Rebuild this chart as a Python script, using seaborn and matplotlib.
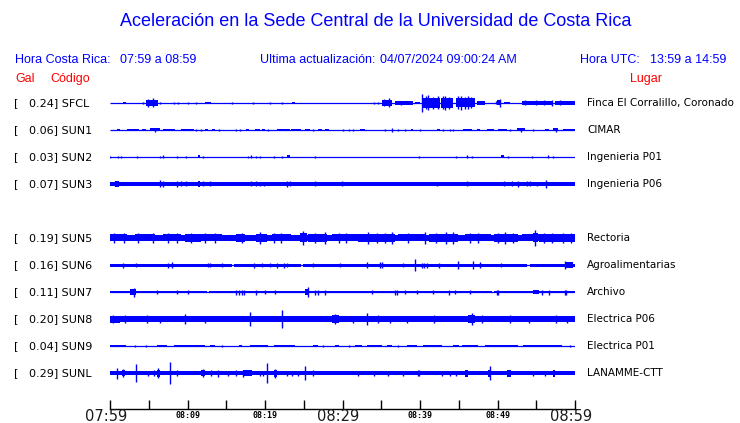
import matplotlib
matplotlib.use("Agg")
import matplotlib.pyplot as plt
import matplotlib.transforms as mtransforms
import seaborn as sns

# --- Chart texts ---
TITLE = "Aceleración en la Sede Central de la Universidad de Costa Rica"
HORA_CR = "07:59 a 08:59"
ACTUALIZACION = "04/07/2024 09:00:24 AM"
HORA_UTC = "13:59 a 14:59"

# --- Stations ---
CODES = ["SFCL", "SUN1", "SUN2", "SUN3", "SUN5", "SUN6", "SUN7", "SUN8", "SUN9", "SUNL"]
GAL = [0.24, 0.06, 0.03, 0.07, 0.19, 0.16, 0.11, 0.20, 0.04, 0.29]
PLACES = ["Finca El Corralillo, Coronado", "CIMAR", "Ingenieria P01", "Ingenieria P06",
          "Rectoria", "Agroalimentarias", "Archivo", "Electrica P06", "Electrica P01",
          "LANAMME-CTT"]
# background half-amplitude of each trace (relative units)
BASE = [0, 0, 0, 1.8, 3.0, 1.5, 1.4, 2.8, 0, 1.7]

# --- Time axis (minutes after 07:59) ---
TICK_MINUTES = [0, 5, 10, 15, 20, 25, 30, 35, 40, 45, 50, 55, 60]
TICK_LABELS = ["07:59", "", "08:09", "", "08:19", "", "08:29", "", "08:39", "", "08:49", "", "08:59"]

# --- Trace activity: bursts (start_min, end_min, half_amp), spikes (min, half_amp), gaps ---
SFCL_BURSTS = [(1.7, 2.1, 1.3), (4.7, 6.2, 3.0), (12.3, 13.0, 1.3), (23.5, 23.9, 1.3),
               (35.1, 36.4, 2.8), (36.8, 39.1, 1.6), (39.4, 40.0, 1.3), (40.4, 42.6, 5.0),
               (42.7, 44.3, 4.8), (44.7, 47.1, 4.5), (47.3, 48.4, 1.6), (49.9, 50.5, 2.5),
               (50.8, 51.6, 1.3), (53.1, 57.0, 1.6), (57.4, 60.0, 1.6)]
SFCL_SPIKES = [(4.3, 1.2), (4.9, 4), (5.5, 4.5), (6.5, 1.2), (8.3, 1), (8.8, 1), (10.0, 1), (11.1, 1),
               (15.8, 1.2), (18.5, 1), (20.6, 1), (22.2, 1), (34.0, 1), (34.6, 1), (35.4, 3.5),
               (36.0, 4.5), (37.5, 2.2), (40.2, 9), (40.8, 6.5), (41.0, 7.5), (41.7, 6), (42.3, 6.5),
               (43.0, 6.5), (43.2, 7), (43.8, 6), (44.9, 6.5), (45.3, 7), (45.8, 6), (46.2, 6.5),
               (46.6, 5.5), (49.8, 1.5), (50.3, 4), (53.5, 2.5), (55.0, 2.5), (56.0, 2.5),
               (57.0, 3), (58.0, 2.5)]

SUN1_BURSTS = [(0.9, 1.3, 1.2), (2.2, 3.7, 1.2), (4.1, 4.7, 1.2), (5.2, 6.5, 1.5), (6.9, 8.4, 1.3),
               (9.2, 10.8, 1.3), (12.3, 12.7, 1.2), (13.1, 13.5, 1.2), (17.6, 17.9, 1.2),
               (18.7, 19.4, 1.3), (19.6, 20.0, 1.2), (21.5, 23.2, 1.3), (23.4, 24.7, 1.2),
               (25.2, 25.8, 1.2), (26.9, 27.3, 1.2), (27.7, 28.2, 1.2), (32.3, 32.9, 1.2),
               (38.8, 39.1, 1.2), (42.2, 42.6, 1.2), (45.6, 46.7, 1.3), (47.3, 47.7, 1.2),
               (48.6, 49.5, 1.2), (50.1, 51.2, 1.3), (52.5, 53.5, 1.5), (56.1, 56.6, 1.2),
               (57.2, 57.8, 1.5), (58.5, 60.0, 1.2)]
SUN1_SPIKES = [(5.8, 2.2), (11.1, 1.2), (11.8, 1.2), (14.0, 1.2), (16.3, 1), (16.8, 1), (20.4, 1.2),
               (26.2, 1.2), (30.1, 1), (30.8, 1), (31.3, 1), (35.5, 1.2), (36.4, 2), (37.2, 1),
               (38.1, 1), (40.0, 1.2), (43.0, 1), (43.9, 1), (44.3, 1), (51.6, 1), (53.0, 2),
               (54.6, 1), (57.5, 2)]

SUN2_BURSTS = [(11.3, 11.6, 1.5), (22.8, 23.2, 1.5), (50.5, 50.8, 1.5)]
SUN2_SPIKES = [(0.0, 1.3), (1.0, 1.3), (1.4, 1.2), (3.5, 0.8), (6.4, 1.2), (6.9, 1.5), (8.7, 1),
               (9.8, 0.8), (12.0, 1.2), (17.8, 1), (18.2, 1.5), (18.8, 1), (19.3, 0.8), (21.2, 1.2),
               (22.2, 1), (26.4, 1.2), (39.9, 0.8), (44.7, 1), (46.0, 1.5), (46.7, 1.2), (51.4, 1),
               (54.5, 1), (56.5, 1.5), (57.1, 1)]

SUN3_BURSTS = [(0.65, 1.2, 3.0), (11.3, 11.6, 3.0)]
SUN3_SPIKES = [(0.6, 2.5), (6.4, 3.5), (6.9, 3), (8.7, 3), (9.2, 2.5), (9.8, 2.5), (12.0, 2.5),
               (12.9, 2.5), (18.2, 2.5), (18.8, 2.5), (19.3, 2.2), (19.9, 2.2), (22.9, 3), (23.2, 2.5),
               (26.4, 2.5), (29.9, 2.5), (42.2, 2.2), (46.0, 2.5), (50.8, 2.5), (51.9, 2.5), (52.7, 3),
               (53.8, 2.5), (54.2, 2.5), (55.1, 2.2), (56.3, 4)]

SUN5_BURSTS = [(0, 2.2, 3.5), (3.2, 5.8, 3.5), (6.9, 9.2, 3.5), (9.7, 11.8, 3.8), (11.8, 14.4, 3.5),
               (16.3, 17.4, 3.8), (18.9, 20.2, 3.8), (20.9, 23.4, 3.5), (24.5, 25.4, 4.5), (25.6, 28.0, 3.8),
               (28.6, 32.0, 3.5), (32.0, 36.8, 3.8), (37.2, 40.6, 3.5), (41.1, 44.9, 3.8), (45.8, 49.2, 3.5),
               (49.5, 52.7, 3.8), (53.1, 55.3, 3.5), (54.6, 55.2, 4.5), (55.3, 60, 3.7)]
SUN5_SPIKES = [(0.5, 4.5), (1.8, 5), (3.6, 4.5), (5.6, 5), (7.5, 4.5), (8.6, 4.5), (10.5, 5), (12.2, 5),
               (13.5, 4.5), (17.0, 5), (19.4, 6), (21.2, 4.5), (22.0, 4.5), (24.9, 7), (26.5, 4.5),
               (27.7, 6), (29.5, 4.5), (30.5, 4.5), (33.3, 6), (34.5, 5), (35.5, 4.5), (36.4, 6),
               (38.5, 4.5), (40.6, 6), (42.0, 4.5), (43.4, 6), (44.3, 6), (46.5, 4.5), (47.5, 4.5),
               (50.0, 4.5), (51.0, 6), (52.0, 4.5), (54.8, 8), (56.0, 4.5), (57.0, 5), (58.5, 4.5),
               (59.5, 4.5)]

SUN6_BURSTS = [(58.9, 59.8, 3)]
SUN6_SPIKES = [(1.7, 2.5), (3.4, 2), (7.5, 2.5), (8.0, 3), (12.7, 2), (12.9, 2), (14.5, 2), (18.6, 2.5),
               (19.6, 2), (20.6, 2), (21.6, 2.5), (22.4, 2.5), (22.9, 2), (26.2, 2), (29.7, 2),
               (33.2, 3), (34.8, 3), (35.1, 3), (37.8, 2), (39.4, 6), (40.2, 2.5), (40.5, 2.5),
               (40.9, 2.5), (42.5, 2.5), (44.9, 4), (46.9, 4), (47.7, 3), (50.4, 2), (58.7, 4)]
SUN6_GAPS = [(15.8, 16.0), (24.7, 24.9), (53.8, 54.2)]

SUN7_BURSTS = [(2.6, 3.4, 3.0), (25.2, 25.7, 3.0), (54.6, 55.3, 2.3)]
SUN7_SPIKES = [(3.1, 4.5), (6.0, 2.2), (8.6, 2.2), (10.1, 2), (16.3, 2.5), (16.6, 2.5), (17.0, 2.5),
               (17.3, 2.5), (18.9, 2.5), (20.0, 2.2), (21.3, 2), (25.6, 5), (26.5, 2.5), (26.9, 2.5),
               (27.7, 2.5), (33.8, 2.2), (36.8, 2.5), (37.0, 2.5), (38.1, 2), (39.6, 2.2), (41.7, 2),
               (43.7, 2.5), (44.5, 2), (46.5, 2.2), (49.9, 2.5), (50.1, 2.5), (55.7, 2.5), (56.6, 2.5),
               (58.7, 2.5), (58.9, 2.5)]
SUN7_GAPS = [(12.5, 12.8), (49.3, 49.5)]

SUN8_BURSTS = [(0, 1.3, 3.5), (4.5, 5.2, 3.3), (10.5, 11.0, 3.2), (13.8, 14.2, 3.2), (15.7, 15.9, 3.2),
               (18.7, 19.1, 3.3), (22.8, 23.4, 3.2), (26.5, 26.9, 3.3), (28.6, 29.5, 3.7), (34.2, 35.1, 3.3),
               (41.1, 42.8, 3.3), (44.1, 44.5, 3.2), (46.2, 47.1, 4.0), (50.3, 51.8, 3.3),
               (52.7, 55.3, 3.2), (56.6, 59.6, 3.3)]
SUN8_SPIKES = [(0.4, 4), (1.9, 4), (4.8, 4), (6.5, 3.5), (9.7, 5), (12.3, 3.5), (18.1, 7), (22.2, 9),
               (29.0, 5), (31.4, 3.5), (33.1, 6), (34.6, 4), (36.1, 3.5), (38.3, 3.5), (41.8, 4), (46.7, 6),
               (48.0, 4), (51.6, 4), (54.0, 3.5), (57.5, 4), (59.0, 3.5)]

SUN9_BURSTS = [(0, 2.0, 1.2), (6.0, 7.3, 1.1), (8.2, 12.3, 1.1), (12.9, 13.6, 1.1), (16.6, 17.0, 1.1),
               (18.1, 20.4, 1.2), (21.1, 23.9, 1.1), (26.2, 26.9, 1.2), (29.0, 29.5, 1.1),
               (31.6, 32.5, 1.1), (33.1, 35.1, 1.1), (35.7, 36.4, 1.1), (38.3, 39.6, 1.1),
               (40.4, 42.8, 1.1), (44.3, 45.0, 1.1), (45.4, 47.5, 1.2), (48.4, 52.7, 1.1),
               (53.3, 58.3, 1.1)]
SUN9_SPIKES = [(3.2, 1.2), (4.7, 1.2), (14.4, 1.2), (27.5, 1.2), (30.8, 1.2), (37.2, 1.2), (59.4, 1.2)]

SUNL_BURSTS = [(1.5, 1.9, 3), (6.0, 6.5, 3.5), (11.8, 12.3, 3), (17.1, 18.3, 2.7), (21.1, 21.5, 3.5),
               (45.8, 46.2, 3.5), (48.8, 49.2, 3.5), (51.2, 51.7, 3.5), (57.2, 57.4, 3.5)]
SUNL_SPIKES = [(0.9, 5.5), (1.7, 4), (3.3, 9), (4.9, 2.5), (5.7, 3), (6.2, 5), (7.8, 11), (8.7, 3),
               (12.0, 4), (13.0, 3), (13.9, 3.5), (15.2, 2.5), (16.2, 3), (17.2, 3.5), (19.4, 2.5),
               (19.8, 2.5), (20.3, 10), (21.3, 4.5), (22.8, 2.5), (23.5, 2.5), (24.2, 2.5), (25.2, 7),
               (26.2, 3), (32.0, 2.5), (34.1, 2.5), (35.9, 2.5), (37.8, 2.5), (39.7, 3), (39.9, 3),
               (42.8, 2.5), (43.9, 2.5), (44.7, 2.5), (49.0, 7), (54.6, 2.5), (56.1, 2.5)]

BURSTS = [SFCL_BURSTS, SUN1_BURSTS, SUN2_BURSTS, SUN3_BURSTS, SUN5_BURSTS,
          SUN6_BURSTS, SUN7_BURSTS, SUN8_BURSTS, SUN9_BURSTS, SUNL_BURSTS]
SPIKES = [SFCL_SPIKES, SUN1_SPIKES, SUN2_SPIKES, SUN3_SPIKES, SUN5_SPIKES,
          SUN6_SPIKES, SUN7_SPIKES, SUN8_SPIKES, SUN9_SPIKES, SUNL_SPIKES]
GAPS = [[], [], [], [], [], SUN6_GAPS, SUN7_GAPS, [], [], []]

# --- Layout / style ---
ROWS = [0, 1, 2, 3, 5, 6, 7, 8, 9, 10]   # SUN4 slot left empty
AMP_UNIT = 1 / 27                        # one amplitude unit as fraction of row spacing
BLUE = "#0000FF"
RED = "#FF0000"
W, H = 740, 423

sns.set_theme(style="white")
plt.rcParams["font.family"] = ["Liberation Sans", "DejaVu Sans"]

fig = plt.figure(figsize=(W / 100, H / 100), dpi=100)
fig.patch.set_facecolor("white")

# trace panel
ax = fig.add_axes([110 / W, 1 - 386.5 / H, 465 / W, 297 / H])
ax.set_xlim(0, 60)
ax.set_ylim(10.5, -0.5)
ax.axis("off")

for i, row in enumerate(ROWS):
    # baseline, with the background band split at data gaps
    ax.hlines(row, 0, 60, color=BLUE, lw=0.9)
    edges = [0]
    for g0, g1 in GAPS[i]:
        edges += [g0, g1]
    edges.append(60)
    if BASE[i] > 0:
        h = BASE[i] * AMP_UNIT
        for s0, s1 in zip(edges[::2], edges[1::2]):
            ax.bar(s0, 2 * h, width=s1 - s0, bottom=row - h, align="edge",
                   color=BLUE, linewidth=0)

    if BURSTS[i]:
        starts = [b[0] for b in BURSTS[i]]
        widths = [b[1] - b[0] for b in BURSTS[i]]
        amps = [b[2] * AMP_UNIT for b in BURSTS[i]]
        ax.bar(starts, [2 * a for a in amps], width=widths,
               bottom=[row - a for a in amps], align="edge", color=BLUE, linewidth=0)
    if SPIKES[i]:
        ts = [s[0] for s in SPIKES[i]]
        amps = [s[1] * AMP_UNIT for s in SPIKES[i]]
        ax.vlines(ts, [row - a for a in amps], [row + a for a in amps], color=BLUE, lw=1.0)

# station labels and places
trans = mtransforms.blended_transform_factory(fig.transFigure, ax.transData)
for i, row in enumerate(ROWS):
    ax.text(14 / W, row, f"[   {GAL[i]:.2f}] {CODES[i]}", transform=trans,
            ha="left", va="center", fontsize=8, family="DejaVu Sans", color="black")
    ax.text(587 / W, row, PLACES[i], transform=trans,
            ha="left", va="center", fontsize=7.5, family="DejaVu Sans", color="black")

# time axis
tax = fig.add_axes([110 / W, 1 - 409 / H, 465 / W, 0.0001])
tax.set_xlim(0, 60)
tax.set_yticks([])
for side in ["left", "right", "top"]:
    tax.spines[side].set_visible(False)
tax.spines["bottom"].set_color("black")
tax.spines["bottom"].set_linewidth(1.0)
tax.set_xticks(TICK_MINUTES)
tax.set_xticklabels([])
tax.tick_params(axis="x", direction="in", length=6.5, width=1.0, color="black", bottom=True)
tt = mtransforms.blended_transform_factory(tax.transData, fig.transFigure)
for m, lab in zip(TICK_MINUTES, TICK_LABELS):
    if not lab:
        continue
    if m % 30 == 0:
        tax.text(m - 0.5, 1 - 416.5 / H, lab, transform=tt, ha="center", va="center",
                 fontsize=10.5, family="DejaVu Sans", color="#1a1a1a")
    else:
        tax.text(m, 1 - 415 / H, lab, transform=tt, ha="center", va="center",
                 fontsize=6, family="DejaVu Sans Mono", weight="bold", color="black")

# headers
fig.text(376 / W, 1 - 22 / H, TITLE, ha="center", va="center", fontsize=13, color=BLUE)
fig.text(15 / W, 1 - 60 / H, "Hora Costa Rica:", ha="left", va="center", fontsize=9, color=BLUE)
fig.text(120 / W, 1 - 60 / H, HORA_CR, ha="left", va="center", fontsize=9, color=BLUE)
fig.text(260 / W, 1 - 60 / H, "Ultima actualización:", ha="left", va="center", fontsize=9, color=BLUE)
fig.text(380 / W, 1 - 60 / H, ACTUALIZACION, ha="left", va="center", fontsize=9, color=BLUE)
fig.text(580 / W, 1 - 60 / H, "Hora UTC:", ha="left", va="center", fontsize=9, color=BLUE)
fig.text(650 / W, 1 - 60 / H, HORA_UTC, ha="left", va="center", fontsize=9, color=BLUE)
fig.text(15 / W, 1 - 79 / H, "Gal", ha="left", va="center", fontsize=9, color=RED)
fig.text(50 / W, 1 - 79 / H, "Código", ha="left", va="center", fontsize=9, color=RED)
fig.text(630 / W, 1 - 79 / H, "Lugar", ha="left", va="center", fontsize=9, color=RED)

fig.savefig("out.png", dpi=100, facecolor="white")
plt.close(fig)
